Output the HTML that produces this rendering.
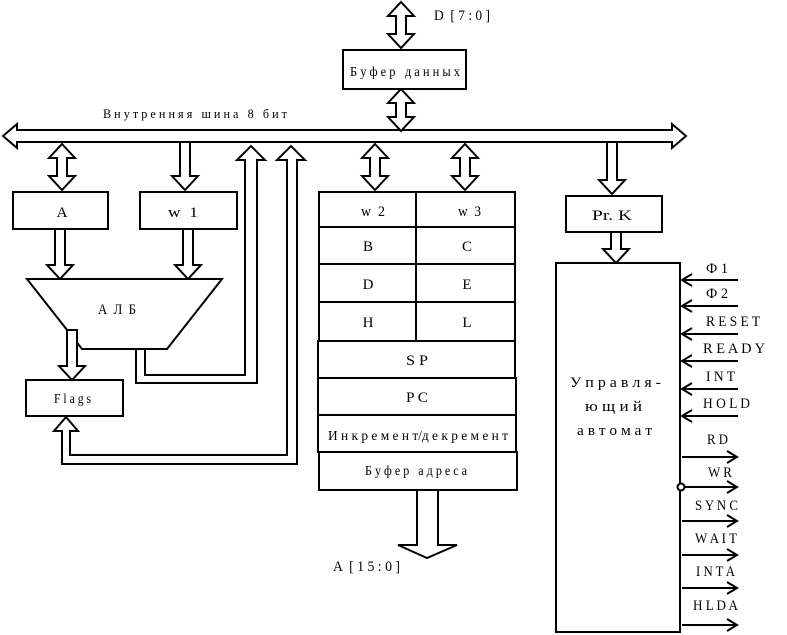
<!DOCTYPE html>
<html><head><meta charset="utf-8"><style>
html,body{margin:0;padding:0;background:#fff;}
svg{display:block;}
text{font-family:"Liberation Serif","DejaVu Serif",serif;fill:#000;white-space:pre;}
</style></head><body>
<svg width="787" height="635" viewBox="0 0 787 635" xmlns="http://www.w3.org/2000/svg" xml:space="preserve">
<g fill="#fff" stroke="#000" stroke-width="2" stroke-linejoin="miter">
<path d="M3,136 L17,124 L17,130 L672,130 L672,124 L686,136 L672,148 L672,142 L17,142 L17,148 Z"/>
<polygon points="401,2 414,16 406,16 406,34 414,34 401,48 388,34 396,34 396,16 388,16"/>
<polygon points="401,89 414,103 406,103 406,117 414,117 401,131 388,117 396,117 396,103 388,103"/>
<polygon points="62,144 75,158 67,158 67,176 75,176 62,190 49,176 57,176 57,158 49,158"/>
<polygon points="375,144 388,158 380,158 380,176 388,176 375,190 362,176 370,176 370,158 362,158"/>
<polygon points="465,144 478,158 470,158 470,176 478,176 465,190 452,176 460,176 460,158 452,158"/>
<polygon points="180,142 190,142 190,176 198,176 185,190 172,176 180,176"/>
<polygon points="607,142 617,142 617,180 625,180 612,194 599,180 607,180"/>
<polygon points="611,232 621,232 621,249 629,249 616,263 603,249 611,249"/>
<polygon points="55,229 65,229 65,265 73,265 60,279 47,265 55,265"/>
<polygon points="183,229 193,229 193,265 201,265 188,279 175,265 183,265"/>
<rect x="343" y="50" width="123" height="39"/>
<rect x="13" y="192" width="95" height="37"/>
<rect x="140" y="192" width="97" height="37"/>
<rect x="566" y="196" width="96" height="36"/>
<rect x="556" y="263" width="124" height="369"/>
<rect x="26" y="380" width="97" height="36"/>
<rect x="319" y="192" width="97" height="35"/><rect x="416" y="192" width="99" height="35"/>
<rect x="319" y="227" width="97" height="37"/><rect x="416" y="227" width="99" height="37"/>
<rect x="319" y="264" width="97" height="38"/><rect x="416" y="264" width="99" height="38"/>
<rect x="319" y="302" width="97" height="39"/><rect x="416" y="302" width="99" height="39"/>
<rect x="318" y="341" width="197" height="37"/>
<rect x="318" y="378" width="198" height="37"/>
<rect x="318" y="415" width="198" height="37"/>
<rect x="319" y="452" width="198" height="38"/>
<polygon points="27,279 222,279 167,349 82,349"/>
<polygon points="67,330 77,330 77,366 85,366 72,380 59,366 67,366"/>
<path d="M136,350 L136,383 L257,383 L257,160 L265,160 L251,146 L237,160 L245,160 L245,375 L145,375 L145,350"/>
<path d="M62,431 L62,464 L297,464 L297,160 L305,160 L291,146 L277,160 L287,160 L287,455 L70,455 L70,431 L78,431 L66,417 L54,431 Z"/>
<polygon points="417,490 438,490 438,545 457,545 427,558 398,545 417,545"/>
</g>
<g fill="none" stroke="#000" stroke-width="2">
<path d="M682,280 H738 M692,274 L682,280 L692,286"/>
<path d="M682,306 H738 M692,300 L682,306 L692,312"/>
<path d="M682,334 H738 M692,328 L682,334 L692,340"/>
<path d="M682,361 H738 M692,355 L682,361 L692,367"/>
<path d="M682,389 H738 M692,383 L682,389 L692,395"/>
<path d="M682,416 H738 M692,410 L682,416 L692,422"/>
<path d="M682,457 H737 M727,451 L737,457 L727,463"/>
<path d="M685,487 H737 M727,481 L737,487 L727,493"/>
<path d="M682,521 H737 M727,515 L737,521 L727,527"/>
<path d="M682,555 H737 M727,549 L737,555 L727,561"/>
<path d="M682,588 H737 M727,582 L737,588 L727,594"/>
<path d="M682,625 H737 M727,619 L737,625 L727,631"/>
</g>
<circle cx="681" cy="487" r="3.5" fill="#fff" stroke="#000" stroke-width="2"/>
<g font-size="15">
<text x="103" y="118" font-size="13" textLength="184" lengthAdjust="spacingAndGlyphs">В н у т р е н н я я   ш и н а   8   б и т</text>
<text x="434" y="20" textLength="56" lengthAdjust="spacingAndGlyphs">D  [ 7 : 0 ]</text>
<text x="350" y="76" font-size="14" textLength="110" lengthAdjust="spacingAndGlyphs">Б у ф е р   д а н н ы х</text>
<text x="62" y="217" text-anchor="middle">A</text>
<text x="168" y="217" textLength="30" lengthAdjust="spacingAndGlyphs">w  1</text>
<text x="98" y="314" textLength="38" lengthAdjust="spacingAndGlyphs">А  Л  Б</text>
<text x="54" y="403" font-size="14" textLength="37" lengthAdjust="spacingAndGlyphs">F l a g s</text>
<text x="361" y="216" textLength="24" lengthAdjust="spacingAndGlyphs">w  2</text>
<text x="458" y="216" textLength="23" lengthAdjust="spacingAndGlyphs">w  3</text>
<text x="368" y="251" text-anchor="middle">B</text>
<text x="467" y="251" text-anchor="middle">C</text>
<text x="368" y="289" text-anchor="middle">D</text>
<text x="467" y="289" text-anchor="middle">E</text>
<text x="368" y="327" text-anchor="middle">H</text>
<text x="467" y="327" text-anchor="middle">L</text>
<text x="406" y="365" textLength="22" lengthAdjust="spacingAndGlyphs">S P</text>
<text x="406" y="402" textLength="22" lengthAdjust="spacingAndGlyphs">P C</text>
<text x="328" y="440" font-size="14" textLength="180" lengthAdjust="spacingAndGlyphs">И н к р е м е н т/д е к р е м е н т</text>
<text x="365" y="475" font-size="14" textLength="102" lengthAdjust="spacingAndGlyphs">Б у ф е р   а д р е с а</text>
<text x="333" y="571" textLength="67" lengthAdjust="spacingAndGlyphs">A  [ 1 5 : 0 ]</text>
<text x="592" y="220" textLength="40" lengthAdjust="spacingAndGlyphs">Pr. K</text>
<text x="570" y="387" textLength="91" lengthAdjust="spacingAndGlyphs">У п р а в л я -</text>
<text x="585" y="411" textLength="57" lengthAdjust="spacingAndGlyphs">ю щ и й</text>
<text x="577" y="435" textLength="75" lengthAdjust="spacingAndGlyphs">а в т о м а т</text>
<text x="706" y="273" textLength="22" lengthAdjust="spacingAndGlyphs">Ф 1</text>
<text x="706" y="298" textLength="22" lengthAdjust="spacingAndGlyphs">Ф 2</text>
<text x="706" y="326" textLength="54" lengthAdjust="spacingAndGlyphs">R E S E T</text>
<text x="703" y="353" textLength="62" lengthAdjust="spacingAndGlyphs">R E A D Y</text>
<text x="706" y="381" textLength="29" lengthAdjust="spacingAndGlyphs">I N T</text>
<text x="703" y="408" textLength="47" lengthAdjust="spacingAndGlyphs">H O L D</text>
<text x="707" y="444" textLength="21" lengthAdjust="spacingAndGlyphs">R D</text>
<text x="708" y="477" textLength="24" lengthAdjust="spacingAndGlyphs">W R</text>
<text x="695" y="510" textLength="43" lengthAdjust="spacingAndGlyphs">S Y N C</text>
<text x="695" y="543" textLength="42" lengthAdjust="spacingAndGlyphs">W A I T</text>
<text x="696" y="576" textLength="39" lengthAdjust="spacingAndGlyphs">I N T A</text>
<text x="693" y="610" textLength="45" lengthAdjust="spacingAndGlyphs">H L D A</text>
</g>
</svg>
</body></html>
